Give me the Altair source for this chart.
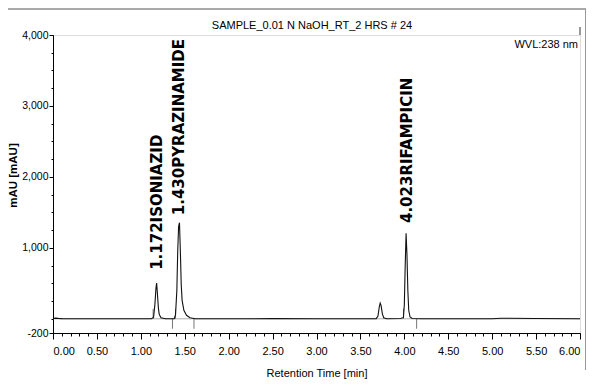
import altair as alt
import pandas as pd

# ---- chromatogram trace ----
time_min = [0.00, 0.03, 0.06, 0.10, 0.50, 1.00, 1.12, 1.145, 1.16, 1.172, 1.18, 1.19, 1.20, 1.21, 1.23, 1.28,
            1.38, 1.395, 1.41, 1.42, 1.43, 1.44, 1.45, 1.46, 1.47, 1.49, 1.52, 1.56, 1.62, 2.00, 2.50, 3.00,
            3.50, 3.68, 3.70, 3.715, 3.725, 3.735, 3.75, 3.765, 3.80, 3.96, 3.99, 4.00, 4.01, 4.02, 4.03,
            4.04, 4.05, 4.065, 4.09, 4.20, 5.00, 5.10, 5.50, 6.00]
mau = [5, 10, 6, 2, 0, 0, 0, 20, 200, 430, 505, 330, 150, 60, 15, 0,
       2, 60, 400, 950, 1300, 1354, 950, 480, 260, 120, 50, 15, 0, 0, 3, 0,
       0, 2, 40, 170, 222, 190, 70, 15, 0, 5, 20, 200, 750, 1204, 900,
       400, 120, 25, 5, 0, 0, 8, 5, 0]

peak_label_time = [1.18, 1.44, 4.025]
peak_label_mau = [690, 1460, 1350]
peak_label_text = ["1.172ISONIAZID", "1.430PYRAZINAMIDE", "4.023RIFAMPICIN"]

# integration markers (baseline start/end ticks)
marker_up_time = [1.14, 1.395, 3.99]
marker_up_top = [140, 140, 140]
marker_down_time = [1.36, 1.605, 4.14]
marker_down_bottom = [-140, -140, -140]

x_major = [0.0, 0.5, 1.0, 1.5, 2.0, 2.5, 3.0, 3.5, 4.0, 4.5, 5.0, 5.5, 6.0]
x_minor = [0.0, 0.1, 0.2, 0.3, 0.4, 0.5, 0.6, 0.7, 0.8, 0.9, 1.0, 1.1, 1.2, 1.3, 1.4, 1.5, 1.6, 1.7, 1.8,
           1.9, 2.0, 2.1, 2.2, 2.3, 2.4, 2.5, 2.6, 2.7, 2.8, 2.9, 3.0, 3.1, 3.2, 3.3, 3.4, 3.5, 3.6, 3.7,
           3.8, 3.9, 4.0, 4.1, 4.2, 4.3, 4.4, 4.5, 4.6, 4.7, 4.8, 4.9, 5.0, 5.1, 5.2, 5.3, 5.4, 5.5, 5.6,
           5.7, 5.8, 5.9, 6.0]
y_major = [-200, 1000, 2000, 3000, 4000]
y_minor = [0, 250, 500, 750, 1000, 1250, 1500, 1750, 2000, 2250, 2500, 2750, 3000, 3250, 3500, 3750, 4000]

title_text = "SAMPLE_0.01 N NaOH_RT_2 HRS # 24"
wvl_text = "WVL:238 nm"
x_title = "Retention Time [min]"
y_title = "mAU [mAU]"

NARROW = "Liberation Sans"

trace = pd.DataFrame({"t": time_min, "mau": mau})
labels = pd.DataFrame({"t": peak_label_time, "mau": peak_label_mau, "txt": peak_label_text})
mk_up = pd.DataFrame({"t": marker_up_time, "y1": [0] * len(marker_up_time), "y2": marker_up_top})
mk_dn = pd.DataFrame({"t": marker_down_time, "y1": [0] * len(marker_down_time), "y2": marker_down_bottom})

xs = alt.Scale(domain=[0, 6], nice=False, zero=False)
ys = alt.Scale(domain=[-200, 4000], nice=False, zero=False)

x_axis = alt.Axis(values=x_major, format=".2f", tickSize=6, labelPadding=6, labelFont=NARROW,
                  labelFontSize=11, labelColor="black", tickColor="black", domainColor="black",
                  title=x_title, titleFont=NARROW, titleFontSize=11, titleFontWeight="normal",
                  titleColor="black", titleY=45, titleBaseline="bottom", grid=False, orient="bottom")
y_axis = alt.Axis(values=y_major, labelExpr="datum.value == -200 ? '-200' : format(datum.value, ',')",
                  tickSize=4, labelPadding=1, labelFont=NARROW, labelFontSize=10.5, labelColor="black",
                  tickColor="black", domainColor="black", title=y_title, titleFont="Liberation Sans",
                  titleFontSize=11.5, titleFontWeight="bold", titleColor="black", titleX=-40, titleY=140,
                  titleAngle=270, titleAlign="center", titleBaseline="middle", grid=False, orient="left")
x_axis_minor = alt.Axis(values=x_minor, labels=False, tickSize=3, tickColor="black", domain=False,
                        title=None, grid=False, orient="bottom")
y_axis_minor = alt.Axis(values=y_minor, labels=False, tickSize=2, tickColor="black", domain=False,
                        title=None, grid=False, orient="left")

line = alt.Chart(trace).mark_line(color="#111111", strokeWidth=1.1).encode(
    x=alt.X("t:Q", scale=xs, axis=x_axis),
    y=alt.Y("mau:Q", scale=ys, axis=y_axis),
)
minor = alt.Chart(trace).mark_line(opacity=0).encode(
    x=alt.X("t:Q", scale=xs, axis=x_axis_minor),
    y=alt.Y("mau:Q", scale=ys, axis=y_axis_minor),
)
base_rule = alt.Chart(trace).mark_rule(color="#999999", strokeWidth=0.8).encode(
    y=alt.Y("zero:Q", scale=ys, axis=None)
).transform_calculate(zero="0").transform_filter("datum.t == 0")
up = alt.Chart(mk_up).mark_rule(color="#777777", strokeWidth=1).encode(
    x=alt.X("t:Q", scale=xs, axis=None), y=alt.Y("y1:Q", scale=ys, axis=None), y2="y2:Q")
dn = alt.Chart(mk_dn).mark_rule(color="#777777", strokeWidth=1).encode(
    x=alt.X("t:Q", scale=xs, axis=None), y=alt.Y("y1:Q", scale=ys, axis=None), y2="y2:Q")
txt = alt.Chart(labels).mark_text(angle=270, align="left", baseline="middle", font="DejaVu Sans",
                                  fontWeight="bold", fontSize=15, color="black").encode(
    x=alt.X("t:Q", scale=xs, axis=None), y=alt.Y("mau:Q", scale=ys, axis=None), text="txt:N")
wvl = alt.Chart(pd.DataFrame({"txt": [wvl_text]})).mark_text(
    align="right", baseline="middle", font=NARROW, fontSize=11, color="black").encode(
    x=alt.value(525), y=alt.value(10), text="txt:N")
ttl = alt.Chart(pd.DataFrame({"txt": [title_text]})).mark_text(
    align="center", baseline="middle", font=NARROW, fontSize=11, color="black").encode(
    x=alt.value(259), y=alt.value(-9), text="txt:N")

frame_df = pd.DataFrame({"k": [0]})
frame_left = alt.Chart(frame_df).mark_rule(color="#888888", strokeWidth=1).encode(
    x=alt.value(-46), y=alt.value(-26), y2=alt.value(345))
frame_top = alt.Chart(frame_df).mark_rule(color="#555555", strokeWidth=1).encode(
    x=alt.value(-46), x2=alt.value(533), y=alt.value(-26))
frame_right = alt.Chart(frame_df).mark_rule(color="#999999", strokeWidth=1).encode(
    x=alt.value(532.5), y=alt.value(-26), y2=alt.value(335))
plot_right_ext = alt.Chart(frame_df).mark_rule(color="#333333", strokeWidth=1).encode(
    x=alt.value(527), y=alt.value(-8), y2=alt.value(0))

chart = alt.layer(
    base_rule, up, dn, line, minor, txt, wvl, ttl, frame_left, frame_top, frame_right, plot_right_ext
).resolve_axis(x="independent", y="independent").properties(
    width=527, height=298,
    padding={"left": 45, "top": 27, "right": 6, "bottom": 46},
    autosize=alt.AutoSizeParams(type="none"),
).configure_view(stroke="black", strokeWidth=1.2).configure(background="white")

chart.save("out.html", embed_options={"renderer": "svg", "actions": False})
